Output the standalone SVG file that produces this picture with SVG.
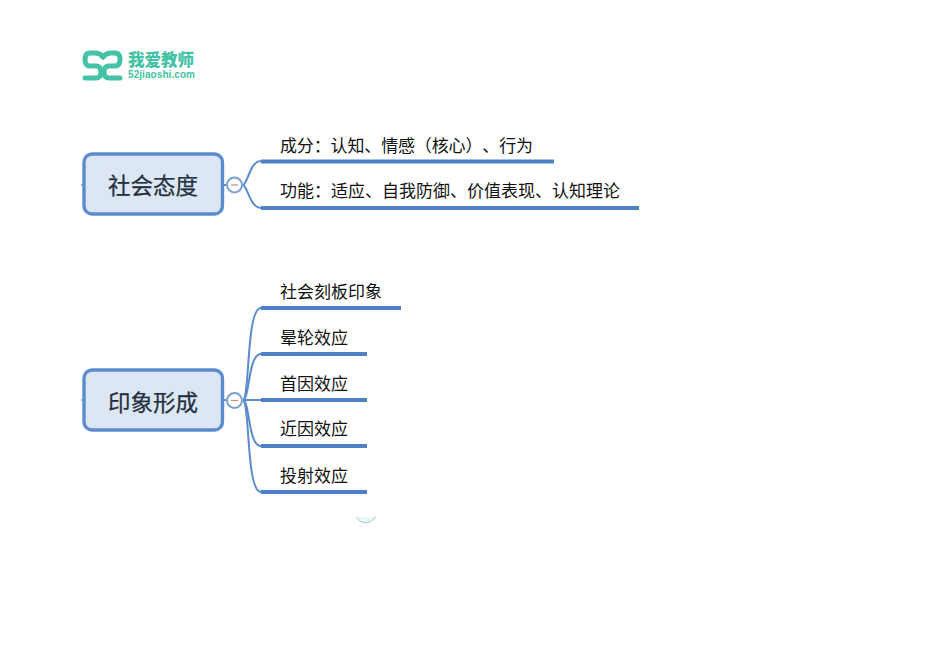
<svg xmlns="http://www.w3.org/2000/svg" width="950" height="672" viewBox="0 0 950 672">
<style>
text{font-family:"Noto Sans CJK SC","Liberation Sans",sans-serif;text-spacing-trim:space-all}
.root{fill:#dde6f3;stroke:#5b8ccb;stroke-width:3.4}
.rt{font-size:22.5px;font-weight:400;fill:#22303f;stroke:#22303f;stroke-width:.25;text-anchor:middle}
.lb{font-size:17px;font-weight:400;fill:#111}
.bar{stroke:#4f81c7;stroke-width:4;fill:none}
.br{stroke:#5b8ccb;stroke-width:2;fill:none}
.col{fill:#fff;stroke:#7ba1d2;stroke-width:2}
.minus{stroke:#c09090;stroke-width:1.2}
.stub{stroke:#5b8ccb;stroke-width:1.2}
.lg{fill:none;stroke:#44c2a5;stroke-width:5;stroke-linecap:round}
</style>
<rect width="950" height="672" fill="#fff"/>
<g id="logo">
<path class="lg" d="M103 57Q100 53 95 53H90Q85 53 85 59.500Q85 66 90 66H96Q101 66 101 72Q101 78 96 78H85"/>
<path class="lg" d="M103 57Q106 53 111 53H115Q120 53 120 59.500Q120 66 115 66H109Q104 66 104 72Q104 78 109 78H120"/>
<text x="128" y="65.500" style="font-size:16.5px;font-weight:900;fill:#44c2a5">我爱教师</text>
<text x="128" y="78" style="font-size:10px;font-weight:700;fill:#44c2a5;font-family:'Liberation Sans',sans-serif" textLength="67">52jiaoshi.com</text>
</g>
<g id="connectors">
<line class="stub" x1="81" y1="185" x2="85" y2="185"/>
<line class="stub" x1="81" y1="400" x2="85" y2="400"/>
<line class="br" x1="222" y1="185" x2="226" y2="185"/>
<line class="br" x1="222" y1="400" x2="226" y2="400"/>
<path class="br" d="M243 185C248 183 250 161 261 161"/>
<path class="br" d="M243 185C248 187 250 208 261 208"/>
<path class="br" d="M243 400C250 398 246 308 261 308"/>
<path class="br" d="M243 400C250 398 248 354 261 354"/>
<path class="br" d="M243 400H261"/>
<path class="br" d="M243 400C250 402 248 446 261 446"/>
<path class="br" d="M243 400C250 402 246 492 261 492"/>
<line class="bar" x1="261" y1="161.500" x2="554" y2="161.500"/>
<line class="bar" x1="261" y1="208" x2="639" y2="208"/>
<line class="bar" x1="261" y1="308" x2="401" y2="308"/>
<line class="bar" x1="261" y1="354" x2="367" y2="354"/>
<line class="bar" x1="261" y1="400" x2="367" y2="400"/>
<line class="bar" x1="261" y1="446" x2="367" y2="446"/>
<line class="bar" x1="261" y1="492" x2="367" y2="492"/>
</g>
<g id="root1">
<rect class="root" x="84" y="154" width="138.500" height="60" rx="8"/>
<text class="rt" x="153" y="194">社会态度</text>
<circle class="col" cx="234.500" cy="185" r="7.500"/>
<line class="minus" x1="231" y1="185" x2="238" y2="185"/>
</g>
<g id="root2">
<rect class="root" x="84" y="370" width="138.500" height="60" rx="8"/>
<text class="rt" x="153" y="411">印象形成</text>
<circle class="col" cx="234.500" cy="400.500" r="7.500"/>
<line class="minus" x1="231" y1="400.500" x2="238" y2="400.500"/>
</g>
<g id="n1"><text class="lb" x="280" y="152" textLength="253">成分：认知、情感（核心）、行为</text></g>
<g id="n2"><text class="lb" x="280" y="197">功能：适应、自我防御、价值表现、认知理论</text></g>
<g id="n3"><text class="lb" x="280" y="298">社会刻板印象</text></g>
<g id="n4"><text class="lb" x="280" y="344">晕轮效应</text></g>
<g id="n5"><text class="lb" x="280" y="390">首因效应</text></g>
<g id="n6"><text class="lb" x="280" y="435">近因效应</text></g>
<g id="n7"><text class="lb" x="280" y="482">投射效应</text></g>
<path d="M356 517Q365 529 376 517" fill="#eef7f8" stroke="#8fcfd0" stroke-width="1"/>
</svg>
